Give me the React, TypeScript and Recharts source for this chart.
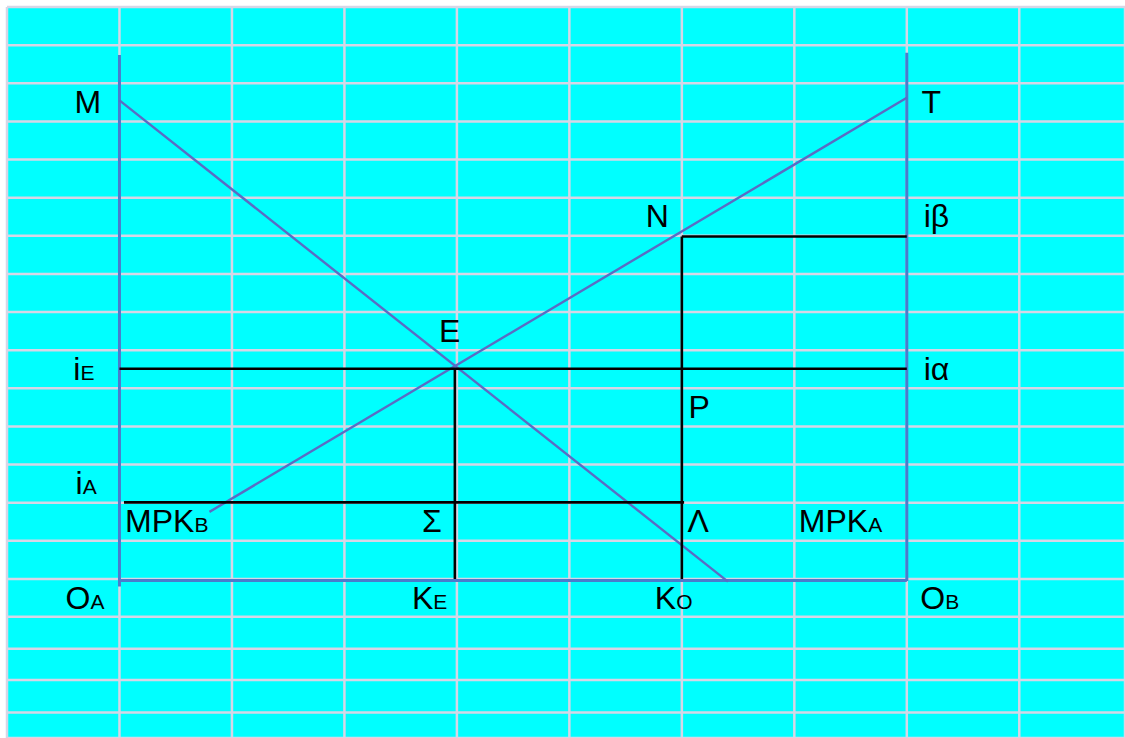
import React from 'react';
import { ComposedChart, Line, XAxis, YAxis, CartesianGrid, ReferenceLine, ReferenceDot } from 'recharts';

// grid columns / rows in diagram units (one unit = one grid cell)
const xTicks = [0, 1, 2, 3, 4, 5, 6, 7, 8, 9];
const yTicks = [15, 14, 13, 12, 11, 10, 9, 8, 7, 6, 5, 4, 3, 2, 1, 0, -0.99, -1.83, -2.65, -3.5];

// marginal product of capital curves
const mpkA = [
  { x: 1, y: 12.55 },
  { x: 6.41, y: -0.07 },
];
const mpkB = [
  { x: 1.8, y: 1.76 },
  { x: 8, y: 12.62 },
];

// the two origins' axes (box)
const boxLines = [
  [{ x: 1, y: 13.74 }, { x: 1, y: -0.2 }],
  [{ x: 8, y: 13.8 }, { x: 8, y: -0.05 }],
  [{ x: 1, y: -0.04 }, { x: 8, y: -0.04 }],
];

// interest rate levels and capital allocations
const iE = 5.515;
const iA = 2.01;
const iB = 8.98;
const kE = 3.982;
const kO = 6;

const guideLines = [
  [{ x: 1, y: iE }, { x: 8, y: iE }],
  [{ x: 1.04, y: iA }, { x: 6.02, y: iA }],
  [{ x: kO, y: iB }, { x: 8, y: iB }],
  [{ x: kE, y: iE }, { x: kE, y: 0 }],
  [{ x: kO, y: iB }, { x: kO, y: 0 }],
];

const labels = [
  { x: 0.6, y: 12.22, main: 'M', sub: '' },
  { x: 8.13, y: 12.22, main: 'T', sub: '' },
  { x: 5.68, y: 9.23, main: 'N', sub: '' },
  { x: 8.15, y: 9.23, main: 'iβ', sub: '' },
  { x: 3.84, y: 6.215, main: 'E', sub: '' },
  { x: 0.59, y: 5.22, main: 'i', sub: 'E' },
  { x: 8.15, y: 5.22, main: 'iα', sub: '' },
  { x: 6.06, y: 4.22, main: 'P', sub: '' },
  { x: 0.61, y: 2.23, main: 'i', sub: 'A' },
  { x: 1.05, y: 1.233, main: 'MPK', sub: 'B' },
  { x: 3.69, y: 1.233, main: 'Σ', sub: '' },
  { x: 6.05, y: 1.233, main: 'Λ', sub: '' },
  { x: 7.04, y: 1.233, main: 'MPK', sub: 'A' },
  { x: 0.52, y: -0.8, main: 'O', sub: 'A' },
  { x: 3.6, y: -0.79, main: 'K', sub: 'E' },
  { x: 5.76, y: -0.79, main: 'K', sub: 'O' },
  { x: 8.12, y: -0.79, main: 'O', sub: 'B' },
];

const FONT = '"Liberation Sans", Arial, sans-serif';

const LabelText = (main: string, sub: string) => (props: any) => (
  <text x={props.cx} y={props.cy} fontFamily={FONT} fontSize={32} fill="#000">
    {main}
    {sub && <tspan fontSize={21}>{sub}</tspan>}
  </text>
);

export default function App() {
  return (
    <div style={{ width: 1125, height: 738 }}>
      <style>{'body{margin:0}'}</style>
      <ComposedChart width={1125} height={738} margin={{ top: 7, right: 0, bottom: 0, left: 7 }}>
        <CartesianGrid stroke="#d6d6e6" strokeWidth={2.5} fill="#00ffff" fillOpacity={1} />
        <XAxis type="number" dataKey="x" domain={[0, 9.94]} ticks={xTicks} allowDataOverflow hide />
        <YAxis type="number" dataKey="y" domain={[-4.17, 15]} ticks={yTicks} allowDataOverflow hide />
        {boxLines.map((seg, i) => (
          <ReferenceLine key={`box-${i}`} segment={seg} stroke="#4a7ccc" strokeWidth={3} strokeOpacity={1} />
        ))}
        <Line data={mpkA} dataKey="y" type="linear" stroke="#5a6cc4" strokeWidth={2.4} dot={false} isAnimationActive={false} />
        <Line data={mpkB} dataKey="y" type="linear" stroke="#5a6cc4" strokeWidth={2.4} dot={false} isAnimationActive={false} />
        {guideLines.map((seg, i) => (
          <ReferenceLine key={`g-${i}`} segment={seg} stroke="#000" strokeWidth={2.6} strokeOpacity={1} />
        ))}
        {labels.map((l, i) => (
          <ReferenceDot key={`l-${i}`} x={l.x} y={l.y} r={0} shape={LabelText(l.main, l.sub)} />
        ))}
      </ComposedChart>
    </div>
  );
}
